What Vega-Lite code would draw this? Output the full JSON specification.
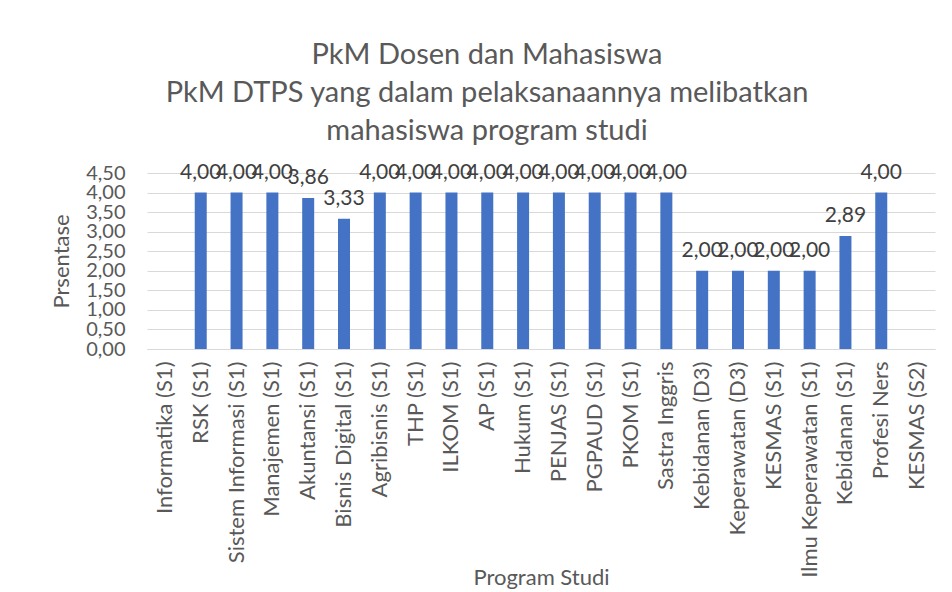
{
  "$schema": "https://vega.github.io/schema/vega-lite/v6.json",
  "autosize": {"type": "none"},
  "width": 788,
  "height": 176,
  "padding": {"left": 147, "top": 173, "right": 17, "bottom": 243},
  "background": "white",
  "config": {
    "locale": {"number": {"decimal": ",", "thousands": ".", "grouping": [3], "currency": ["", ""]}},
    "font": "Lato",
    "view": {"stroke": null},
    "title": {"font": "Lato", "fontSize": 29, "fontWeight": "normal", "color": "#595959", "lineHeight": 38, "anchor": "middle", "offset": 16, "dx": -54},
    "axis": {"labelFont": "Lato", "titleFont": "Lato", "labelColor": "#595959", "titleColor": "#595959", "titleFontWeight": "normal", "ticks": false, "domain": false, "gridColor": "#d9d9d9", "labelFontSize": 20, "titleFontSize": 22}
  },
  "title": {"text": ["PkM Dosen dan Mahasiswa", "PkM DTPS yang dalam pelaksanaannya melibatkan", "mahasiswa program studi"]},
  "data": {"values": [
    {"prodi": "Informatika (S1)", "nilai": null},
    {"prodi": "RSK (S1)", "nilai": 4.0},
    {"prodi": "Sistem Informasi (S1)", "nilai": 4.0},
    {"prodi": "Manajemen (S1)", "nilai": 4.0},
    {"prodi": "Akuntansi  (S1)", "nilai": 3.86},
    {"prodi": "Bisnis Digital  (S1)", "nilai": 3.33},
    {"prodi": "Agribisnis  (S1)", "nilai": 4.0},
    {"prodi": "THP (S1)", "nilai": 4.0},
    {"prodi": "ILKOM (S1)", "nilai": 4.0},
    {"prodi": "AP (S1)", "nilai": 4.0},
    {"prodi": "Hukum (S1)", "nilai": 4.0},
    {"prodi": "PENJAS (S1)", "nilai": 4.0},
    {"prodi": "PGPAUD (S1)", "nilai": 4.0},
    {"prodi": "PKOM (S1)", "nilai": 4.0},
    {"prodi": "Sastra Inggris", "nilai": 4.0},
    {"prodi": "Kebidanan  (D3)", "nilai": 2.0},
    {"prodi": "Keperawatan  (D3)", "nilai": 2.0},
    {"prodi": "KESMAS (S1)", "nilai": 2.0},
    {"prodi": "Ilmu Keperawatan (S1)", "nilai": 2.0},
    {"prodi": "Kebidanan (S1)", "nilai": 2.89},
    {"prodi": "Profesi Ners", "nilai": 4.0},
    {"prodi": "KESMAS (S2)", "nilai": null}
  ]},
  "encoding": {
    "x": {"field": "prodi", "type": "nominal", "sort": null,
      "scale": {"paddingInner": 0.665, "paddingOuter": 0.333,
        "domain": ["Informatika (S1)", "RSK (S1)", "Sistem Informasi (S1)", "Manajemen (S1)", "Akuntansi  (S1)", "Bisnis Digital  (S1)", "Agribisnis  (S1)", "THP (S1)", "ILKOM (S1)", "AP (S1)", "Hukum (S1)", "PENJAS (S1)", "PGPAUD (S1)", "PKOM (S1)", "Sastra Inggris", "Kebidanan  (D3)", "Keperawatan  (D3)", "KESMAS (S1)", "Ilmu Keperawatan (S1)", "Kebidanan (S1)", "Profesi Ners", "KESMAS (S2)"]},
      "axis": {"title": "Program Studi", "labelAngle": -90, "labelPadding": 12, "labelLimit": 400, "labelFontSize": 22, "grid": false, "domain": true, "domainColor": "#d9d9d9", "titleY": 228, "titleBaseline": "middle", "labelBaseline": "middle", "labelAlign": "right"}},
    "y": {"field": "nilai", "type": "quantitative",
      "scale": {"domain": [0, 4.5], "nice": false},
      "axis": {"title": "Prsentase", "values": [0, 0.5, 1, 1.5, 2, 2.5, 3, 3.5, 4, 4.5], "format": ".2f", "labelPadding": 22, "titlePadding": 12, "labelOverlap": false, "labelBaseline": "middle"}}
  },
  "layer": [
    {"mark": {"type": "bar", "color": "#4472C4"}},
    {"transform": [{"filter": "datum.nilai != null"}],
     "mark": {"type": "text", "baseline": "bottom", "dy": -10, "fontSize": 21, "color": "#404040", "font": "Lato"},
     "encoding": {"text": {"field": "nilai", "type": "quantitative", "format": ".2f"}}}
  ]
}
